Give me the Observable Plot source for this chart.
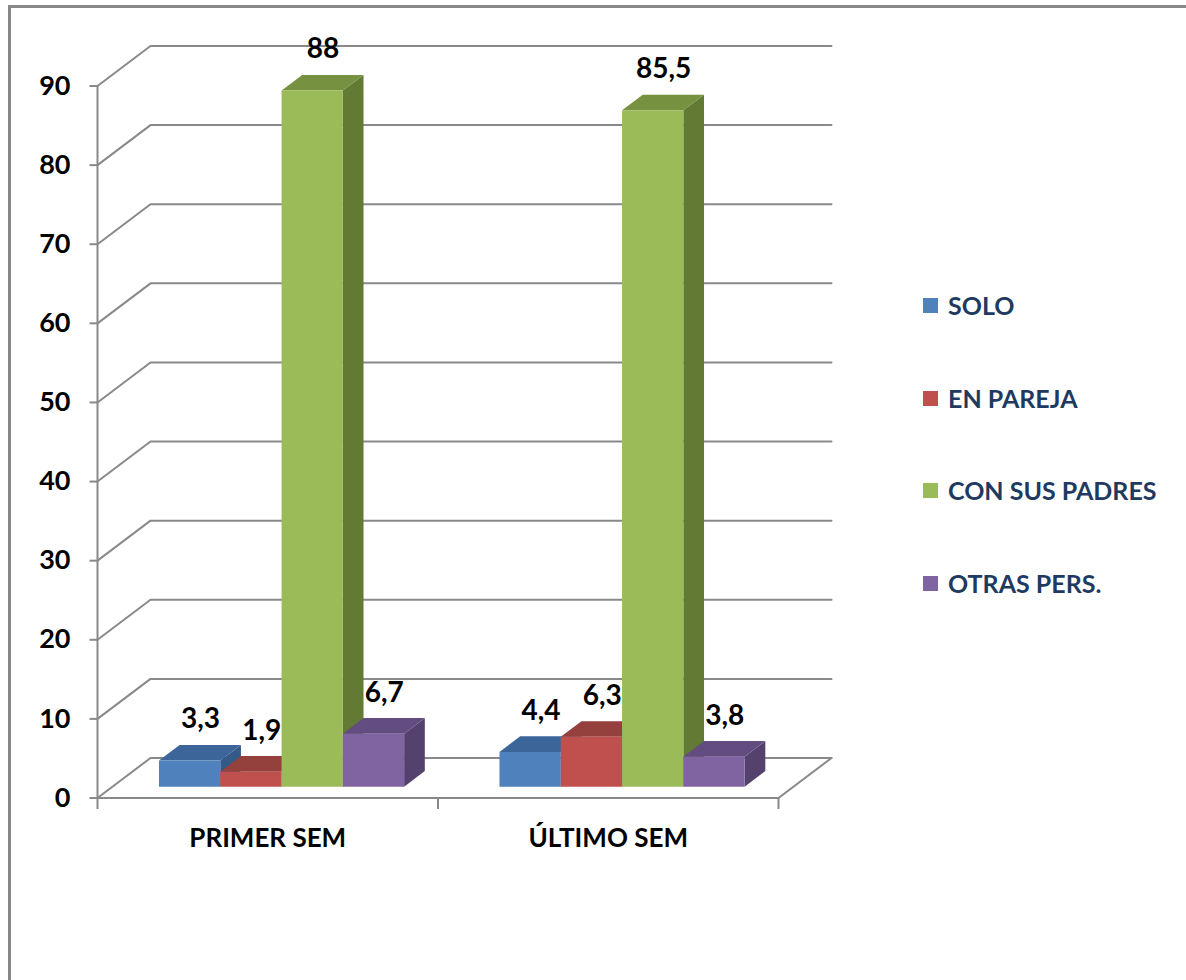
<!DOCTYPE html>
<html>
<head>
<meta charset="utf-8">
<script src="https://cdn.jsdelivr.net/npm/d3@7"></script>
<script src="https://cdn.jsdelivr.net/npm/@observablehq/plot@0.6"></script>
<style>
  html, body { margin: 0; padding: 0; background: #fff; }
  #wrap { position: relative; width: 1186px; height: 980px; overflow: hidden; background: #fff; }
  #frame { position: absolute; left: 8px; top: 5px; width: 1300px; height: 1100px; border-left: 3px solid #888; border-top: 3px solid #888; }
  #chart { position: absolute; left: 0; top: 0; }
  #legend { position: absolute; left: 923px; top: 0; font-family: Lato, "Open Sans", sans-serif; font-weight: 700; font-size: 25px; color: #1F3A60; }
  .item { position: absolute; left: 0; white-space: nowrap; display: flex; align-items: center; transform: translateY(-50%); }
  .sw { width: 15px; height: 15px; margin-right: 10px; }
</style>
</head>
<body>
<div id="wrap">
  <div id="frame"></div>
  <div id="chart"></div>
  <div id="legend"></div>
</div>
<script>
// ---- data ----
const categories = ["PRIMER SEM", "ÚLTIMO SEM"];
const series = ["SOLO", "EN PAREJA", "CON SUS PADRES", "OTRAS PERS."];
const primerSem = [3.3, 1.9, 88, 6.7];
const ultimoSem = [4.4, 6.3, 85.5, 3.8];
const yTicks = [0, 10, 20, 30, 40, 50, 60, 70, 80, 90];
const frontColors = ["#4F81BD", "#C0504D", "#9BBB59", "#8064A2"];
const topColors   = ["#3C669A", "#94403D", "#76913F", "#624C80"];
const sideColors  = ["#345A88", "#85393A", "#637A34", "#54416E"];
const legendY = [305, 398, 490, 583];

const values = [primerSem, ultimoSem];

// ---- pseudo-3D geometry (in data units) ----
const W = 1186, H = 980;
const mL = 97, mR = W - 778, mT = 85.5, mB = H - 797.5;
const pxX = (W - mL - mR) / categories.length; // px per x unit
const pxY = (H - mT - mB) / 90;                // px per y unit
const depthX = 53 / pxX, depthY = 40 / pxY;    // wall depth offset
const f0 = 0.27, f1 = 0.66;                    // bar front/back depth fraction
const gap = 0.14, bw = (1 - 2 * gap) / series.length;

const faces = [];
const valueLabels = [];
categories.forEach((cat, g) => {
  series.forEach((s, i) => {
    const v = values[g][i];
    const L = g + gap + i * bw, R = L + bw;
    const L0 = L + f0 * depthX, R0 = R + f0 * depthX;
    const L1 = L + f1 * depthX, R1 = R + f1 * depthX;
    const b0 = f0 * depthY, b1 = f1 * depthY;
    const id = `${g}-${i}`;
    // side
    faces.push({z: id + "s", fill: sideColors[i], x1: R0, y1: b0, x2: R0, y2: v + b0});
    faces.push({z: id + "s", fill: sideColors[i], x1: R1, y1: b1, x2: R1, y2: v + b1});
    // top
    faces.push({z: id + "t", fill: topColors[i], x1: L0, y1: v + b0, x2: R0, y2: v + b0});
    faces.push({z: id + "t", fill: topColors[i], x1: L1, y1: v + b1, x2: R1, y2: v + b1});
    // front
    faces.push({z: id + "f", fill: frontColors[i], x1: L0, y1: b0, x2: L0, y2: v + b0});
    faces.push({z: id + "f", fill: frontColors[i], x1: R0, y1: b0, x2: R0, y2: v + b0});
    valueLabels.push({
      x: (L + R) / 2 + (f0 + f1) / 2 * depthX,
      y: v + b1,
      text: String(v).replace(".", ",")
    });
  });
});

// gridlines on side + back wall
const grid = [];
yTicks.forEach(t => {
  grid.push({z: "g" + t, x: 0, y: t});
  grid.push({z: "g" + t, x: depthX, y: t + depthY});
  grid.push({z: "g" + t, x: categories.length + depthX, y: t + depthY});
});
const nC = categories.length;
const tickLenX = 8 / pxX, tickLenY = 11 / pxY;
// floor front edge, right diagonal, front vertical axis
const frame = [
  {z: "front", x: 0, y: 0}, {z: "front", x: nC, y: 0},
  {z: "diag", x: nC, y: 0}, {z: "diag", x: nC + depthX, y: depthY},
  {z: "axis", x: 0, y: 90}, {z: "axis", x: 0, y: 0}
];
const yTickMarks = yTicks.map(t => ({x1: -tickLenX, x2: 0, y: t}));
const xTickMarks = d3.range(nC + 1).map(k => ({x: k, y1: 0, y2: -tickLenY}));

const gray = "#898989";
const chart = Plot.plot({
  width: W, height: H,
  marginLeft: mL, marginRight: mR, marginTop: mT, marginBottom: mB,
  x: {domain: [0, nC], axis: null},
  y: {domain: [0, 90], axis: null},
  style: {fontFamily: "Lato, 'Open Sans', sans-serif", fontWeight: 700, background: "transparent", overflow: "visible"},
  marks: [
    Plot.line(grid, {x: "x", y: "y", z: "z", stroke: gray, strokeWidth: 2}),
    Plot.line(frame, {x: "x", y: "y", z: "z", stroke: gray, strokeWidth: 2}),
    Plot.link(yTickMarks, {x1: "x1", x2: "x2", y1: "y", y2: "y", stroke: gray, strokeWidth: 2}),
    Plot.link(xTickMarks, {x1: "x", x2: "x", y1: "y1", y2: "y2", stroke: gray, strokeWidth: 2}),
    Plot.area(faces, {x1: "x1", y1: "y1", x2: "x2", y2: "y2", z: "z", fill: "fill", curve: "linear"}),
    Plot.text(yTicks, {x: () => 0, y: d => d, text: d => String(d), dx: -27, textAnchor: "end", fontSize: 27, fill: "#000"}),
    Plot.text(categories, {x: (d, i) => i + 0.5, y: () => 0, text: d => d, dy: 41, fontSize: 26, fill: "#000"}),
    Plot.text(valueLabels, {x: "x", y: "y", text: "text", dy: -26, fontSize: 28, fill: "#000"})
  ]
});
document.getElementById("chart").appendChild(chart);

// legend
const legend = document.getElementById("legend");
series.forEach((s, i) => {
  const it = document.createElement("div");
  it.className = "item";
  it.style.top = legendY[i] + "px";
  const sw = document.createElement("span");
  sw.className = "sw";
  sw.style.background = frontColors[i];
  const tx = document.createElement("span");
  tx.textContent = s;
  it.appendChild(sw); it.appendChild(tx);
  legend.appendChild(it);
});
</script>
</body>
</html>
